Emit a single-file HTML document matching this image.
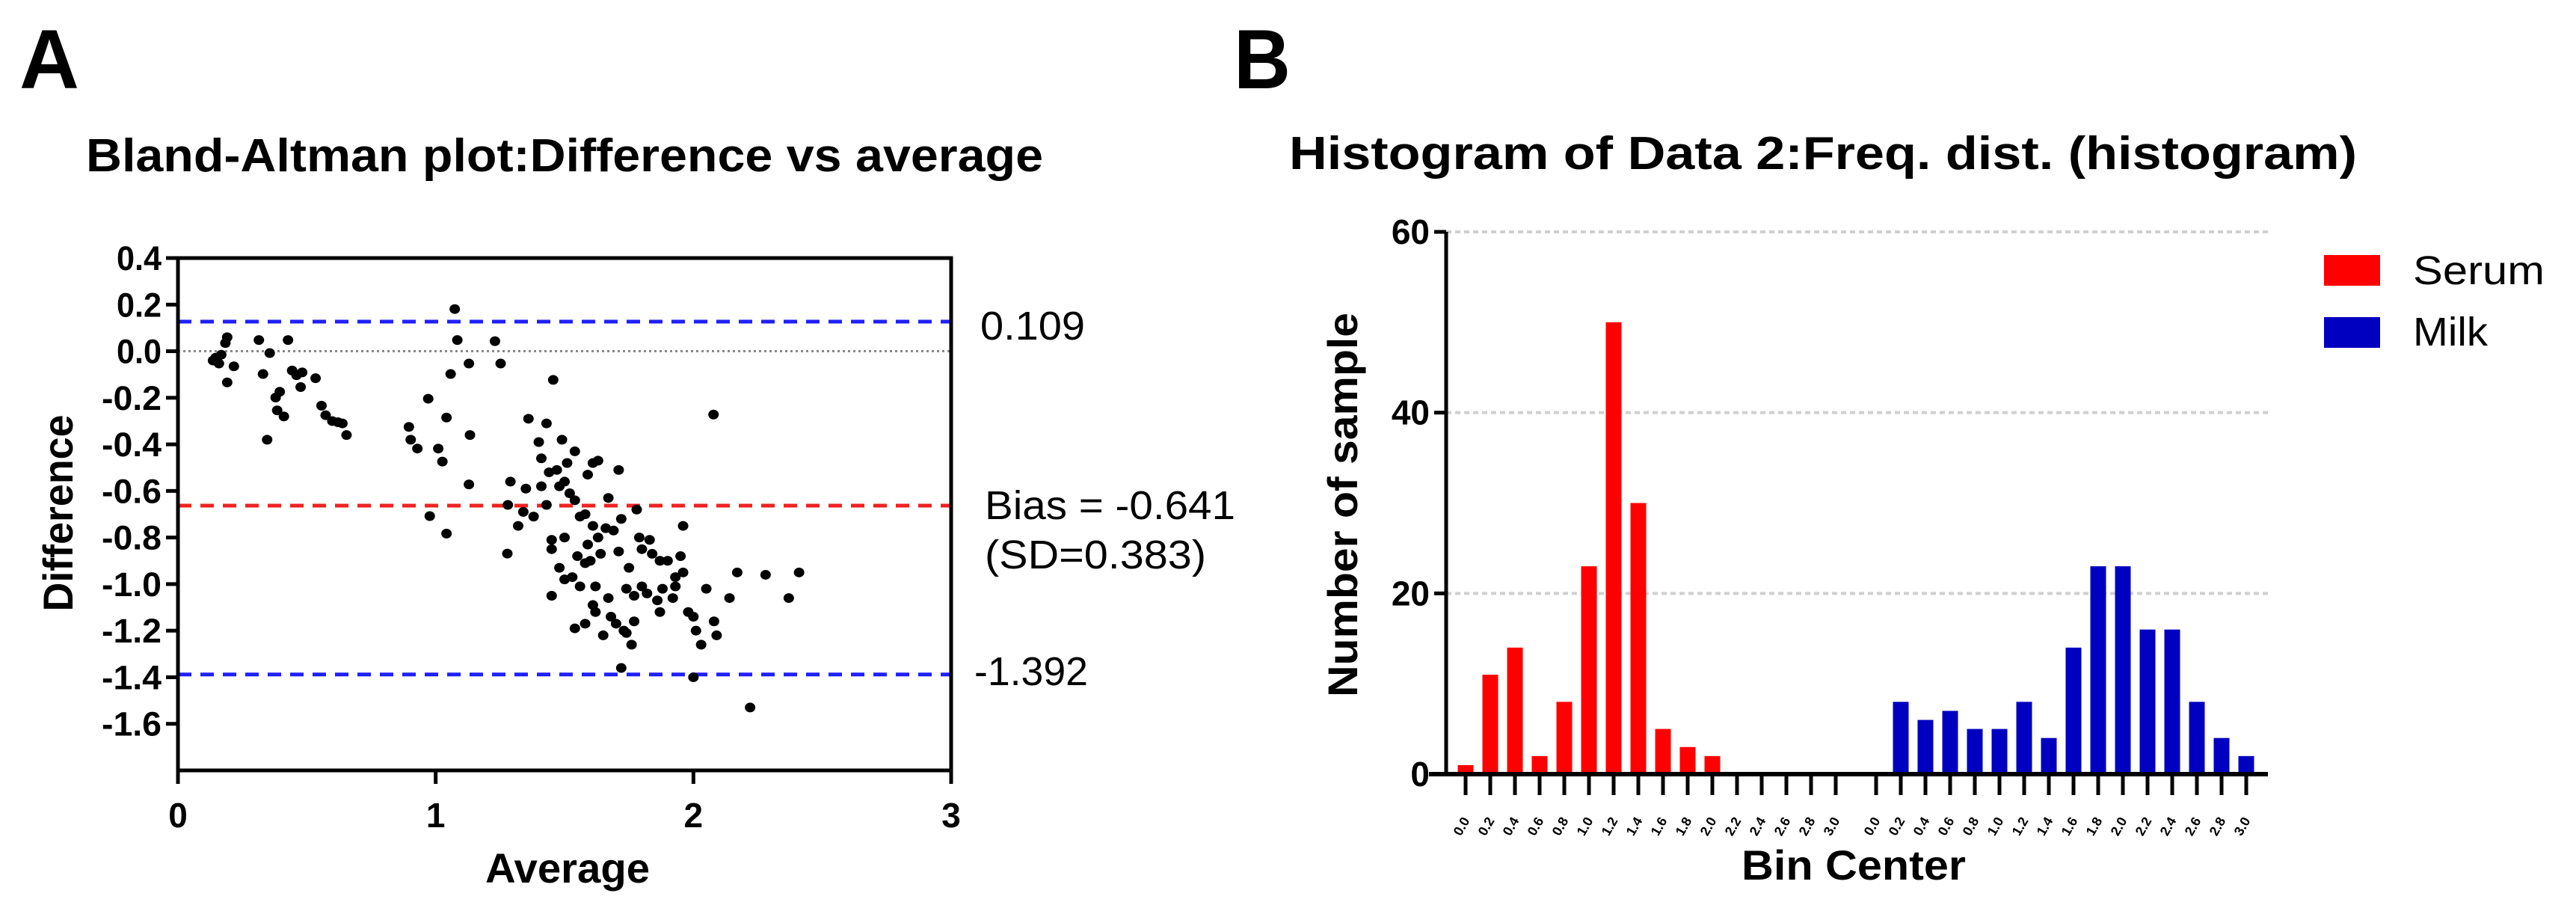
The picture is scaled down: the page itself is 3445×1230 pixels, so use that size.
<!DOCTYPE html>
<html><head><meta charset="utf-8"><style>
html,body{margin:0;padding:0;background:#fff;}
svg{display:block;font-family:"Liberation Sans",Arial,sans-serif;}
</style></head><body>
<svg id="fig" width="3445" height="1230" viewBox="0 0 3445 1230" xmlns="http://www.w3.org/2000/svg">
<rect x="0" y="0" width="3445" height="1230" fill="#fff"/>
<text x="26" y="118" font-size="112" font-weight="bold" textLength="80" lengthAdjust="spacingAndGlyphs">A</text>
<text x="1650" y="118" font-size="112" font-weight="bold" textLength="76" lengthAdjust="spacingAndGlyphs">B</text>
<text x="115" y="229" font-size="62" font-weight="bold" textLength="1280" lengthAdjust="spacingAndGlyphs">Bland-Altman plot:Difference vs average</text>
<text x="1724" y="226" font-size="62" font-weight="bold" textLength="1428" lengthAdjust="spacingAndGlyphs">Histogram of Data 2:Freq. dist. (histogram)</text>
<g id="ba"></g>
<g id="hist"></g>
</svg>
<script>
// ---- Bland-Altman data ----
const baAvg = [0.136,0.159,0.146,0.168,0.191,0.184,0.191,0.217,0.314,0.330,0.356,0.427,0.443,0.460,0.476,0.379,0.395,0.385,0.411,0.346,0.534,0.557,0.573,0.599,0.621,0.638,0.654,0.482,
1.074,1.084,1.230,1.252,1.129,1.058,0.971,1.042,0.896,0.903,0.929,1.010,1.026,1.133,1.129,0.977,1.042,1.456,2.078,1.278,
1.36,1.43,1.29,1.35,1.28,1.34,1.32,1.40,1.41,1.41,1.44,1.49,1.47,1.50,1.51,1.52,1.54,1.54,1.58,1.56,1.59,1.61,1.63,1.61,1.63,1.64,1.60,1.67,1.69,1.71,1.72,1.70,1.71,1.74,1.75,1.77,1.78,1.79,1.80,1.82,1.83,1.84,1.86,1.87,1.90,1.92,1.93,1.95,1.96,1.96,1.98,2.00,2.01,2.03,2.05,2.08,2.09,2.14,2.17,2.28,2.37,2.41,2.22,1.72,2.00,1.48,1.50,1.53,1.56,1.58,1.61,1.62,1.67,1.73,1.74,1.45,1.54,1.38,1.43,1.48,1.45,1.50,1.55,1.59,1.66,1.68,1.76,1.87,1.88,1.93,1.80,1.65,1.45,1.58,1.62,1.77];
const baDiff = [-0.040,-0.053,-0.028,-0.015,0.060,0.035,-0.134,-0.065,0.048,-0.098,-0.008,0.048,-0.083,-0.103,-0.154,-0.199,-0.174,-0.254,-0.280,-0.380,-0.116,-0.234,-0.275,-0.300,-0.305,-0.310,-0.360,-0.091,
0.181,0.048,0.043,-0.053,-0.053,-0.098,-0.204,-0.285,-0.325,-0.380,-0.418,-0.418,-0.474,-0.360,-0.572,-0.708,-0.783,-0.123,-0.272,-0.869,
-0.29,-0.31,-0.56,-0.59,-0.66,-0.69,-0.75,-0.39,-0.46,-0.58,-0.52,-0.38,-0.51,-0.56,-0.48,-0.61,-0.64,-0.43,-0.70,-0.71,-0.53,-0.48,-0.47,-0.75,-0.80,-0.87,-0.90,-0.63,-0.77,-0.51,-0.72,-1.17,-0.86,-1.02,-0.93,-1.16,-0.68,-0.80,-1.01,-1.04,-0.81,-0.87,-1.07,-1.12,-0.90,-1.06,-0.97,-0.88,-0.95,-0.75,-1.12,-1.14,-1.20,-1.26,-1.02,-1.16,-1.22,-1.06,-0.95,-0.96,-1.06,-0.95,-1.53,-1.36,-1.40,-0.93,-0.98,-0.97,-1.01,-1.17,-1.09,-1.12,-1.06,-1.20,-1.21,-1.05,-1.19,-0.71,-0.66,-0.58,-0.81,-0.80,-0.88,-0.83,-0.76,-1.14,-1.26,-0.90,-1.02,-1.01,-0.85,-1.22,-0.85,-0.91,-1.01,-1.05];
const baXTicks = [0,1,2,3];
const baYTicks = [0.4,0.2,0.0,-0.2,-0.4,-0.6,-0.8,-1.0,-1.2,-1.4,-1.6];
const baYTickLabels = ["0.4","0.2","0.0","-0.2","-0.4","-0.6","-0.8","-1.0","-1.2","-1.4","-1.6"];
const baUpper = 0.127, baBias = -0.663, baLower = -1.388;
const baLabels = ["0.109","Bias = -0.641","(SD=0.383)","-1.392"];

// ---- Histogram data ----
const binLabels = ["0.0","0.2","0.4","0.6","0.8","1.0","1.2","1.4","1.6","1.8","2.0","2.2","2.4","2.6","2.8","3.0"];
const serumCounts = [1,11,14,2,8,23,50,30,5,3,2,0,0,0,0,0];
const milkCounts = [0,8,6,7,5,5,8,4,14,23,23,16,16,8,4,2];
const histYTicks = [0,20,40,60];
const legendLabels = ["Serum","Milk"];

const NS="http://www.w3.org/2000/svg";
function mk(tag, attrs, parent, txt){const e=document.createElementNS(NS,tag);for(const k in attrs)e.setAttribute(k,attrs[k]);if(txt!==undefined)e.textContent=txt;parent.appendChild(e);return e;}

// ---- Bland-Altman ----
const ba=document.getElementById('ba');
const L=238,R=1272,T=345,B=1030;
const bx=v=>L+(v-0)*(R-L)/3;
const by=v=>T+(0.4-v)*(B-T)/2.2;
let e;
e=mk('line',{x1:L,x2:R,y1:by(0),y2:by(0),stroke:'#888','stroke-width':3,'stroke-dasharray':'3 4'},ba);


[[baUpper,'#1f1fff','upper-limit-line'],[baBias,'#ee2222','bias-line'],[baLower,'#1f1fff','lower-limit-line']].forEach(a=>{
  const l=mk('line',{x1:L,x2:R,y1:by(a[0]),y2:by(a[0]),stroke:a[1],'stroke-width':5,'stroke-dasharray':'18 12'},ba);
  
  
});
e=mk('rect',{x:L,y:T,width:R-L,height:B-T,fill:'none',stroke:'#000','stroke-width':5},ba);


baAvg.forEach((v,i)=>{
  const c=mk('ellipse',{cx:bx(v),cy:by(baDiff[i]),rx:7,ry:6.5,fill:'#000'},ba);
  
  
});
baYTicks.forEach((v,i)=>{
  const t=mk('line',{x1:L-16,x2:L,y1:by(v),y2:by(v),stroke:'#000','stroke-width':5},ba);
  
  
  const s=baYTickLabels[i];
  const tx=mk('text',{x:L-22,y:by(v)+16,'font-size':45,'font-weight':'bold','text-anchor':'end',textLength:s.length*20,lengthAdjust:'spacingAndGlyphs'},ba,s);
  
  
});
baXTicks.forEach(v=>{
  const t=mk('line',{x1:bx(v),x2:bx(v),y1:B,y2:B+18,stroke:'#000','stroke-width':5},ba);
  
  
  const tx=mk('text',{x:bx(v),y:1106,'font-size':46,'font-weight':'bold','text-anchor':'middle'},ba,String(v));
  
  
});
e=mk('text',{x:759,y:1180,'font-size':56,'font-weight':'bold','text-anchor':'middle',textLength:220,lengthAdjust:'spacingAndGlyphs'},ba,'Average');


e=mk('text',{x:0,y:0,'font-size':56,'font-weight':'bold','text-anchor':'middle',textLength:263,lengthAdjust:'spacingAndGlyphs',transform:'translate(97,686) rotate(-90)'},ba,'Difference');


[[baLabels[0],1311,454,140,'upper-limit-label'],[baLabels[1],1317,694,335,'bias-label'],[baLabels[2],1317,760,296,'sd-label'],[baLabels[3],1303,916,152,'lower-limit-label']].forEach(a=>{
  const tx=mk('text',{x:a[1],y:a[2],'font-size':54,textLength:a[3],lengthAdjust:'spacingAndGlyphs'},ba,a[0]);
  
  
});

// ---- Histogram ----
const h=document.getElementById('hist');
const HL=1934,HR=3033,HT=310,HB=1035;
const hy=v=>HB-v*(HB-HT)/60;
const step=33, x0=1960, gap=21, bw=21;
const hx=(g,i)=>x0+i*step+(g?16*step+gap:0);
histYTicks.forEach(v=>{
  if(v>0){
    const g=mk('line',{x1:HL,x2:HR,y1:hy(v),y2:hy(v),stroke:'#d0d0d0','stroke-width':4,'stroke-dasharray':'7 5'},h);
    
    
  }
  const t=mk('line',{x1:HL-16,x2:HL,y1:hy(v),y2:hy(v),stroke:'#000','stroke-width':5},h);
  
  
  const tx=mk('text',{x:HL-22,y:hy(v)+16,'font-size':46,'font-weight':'bold','text-anchor':'end'},h,String(v));
  
  
});
[[serumCounts,'#ff0000',0,'serum-bar'],[milkCounts,'#0000c0',1,'milk-bar']].forEach(s=>{
  s[0].forEach((v,i)=>{
    if(v<=0)return;
    const r=mk('rect',{x:hx(s[2],i)-bw/2,y:hy(v),width:bw,height:HB-hy(v),fill:s[1]},h);
    
    
  });
});
e=mk('line',{x1:HL,x2:HL,y1:HT,y2:HB,stroke:'#000','stroke-width':5},h);


e=mk('line',{x1:1911,x2:HR,y1:HB,y2:HB,stroke:'#000','stroke-width':6},h);


[0,1].forEach(g=>{
  binLabels.forEach((s,i)=>{
    const x=hx(g,i);
    const t=mk('line',{x1:x,x2:x,y1:HB,y2:HB+28,stroke:'#000','stroke-width':5},h);
    
    
    const tx=mk('text',{x:0,y:0,'font-size':18,'font-weight':'bold','text-anchor':'end',transform:'translate('+(x+6)+','+(HB+62)+') rotate(-60)'},h,s);
    
    
  });
});
e=mk('text',{x:2479,y:1176,'font-size':56,'font-weight':'bold','text-anchor':'middle',textLength:300,lengthAdjust:'spacingAndGlyphs'},h,'Bin Center');


e=mk('text',{x:0,y:0,'font-size':56,'font-weight':'bold','text-anchor':'middle',textLength:514,lengthAdjust:'spacingAndGlyphs',transform:'translate(1815,675) rotate(-90)'},h,'Number of sample');


[['#ff0000',341,361,'legend-serum'],['#0000c0',424,443,'legend-milk']].forEach((a,i)=>{
  const r=mk('rect',{x:3108,y:a[1],width:75,height:41,fill:a[0]},h);
  
  
  const tx=mk('text',{x:3227,y:a[2]+19,'font-size':54,textLength:i?100:176,lengthAdjust:'spacingAndGlyphs'},h,legendLabels[i]);
  
  
});
</script>
</body></html>
